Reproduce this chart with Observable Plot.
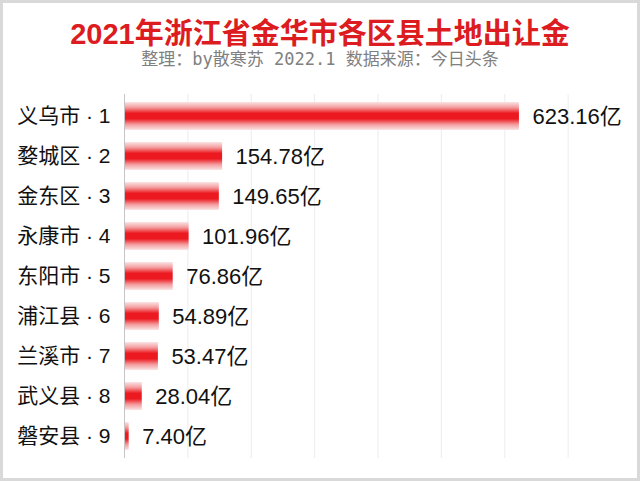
<!DOCTYPE html>
<html>
<head>
<meta charset="utf-8">
<script src="https://cdn.jsdelivr.net/npm/d3@7"></script>
<script src="https://cdn.jsdelivr.net/npm/@observablehq/plot@0.6"></script>
<style>
  html, body { margin: 0; padding: 0; background: #fff; }
  #wrap { position: relative; width: 640px; height: 481px; overflow: hidden; background: #fff; }
  #title { position: absolute; left: 0; top: 14px; width: 640px; height: 40px; line-height: 40px; text-align: center;
           font-family: "Liberation Sans", "Noto Sans CJK SC", sans-serif; font-weight: bold; font-size: 29px; color: #dc1c1e; }
  #subtitle { position: absolute; left: 0; top: 47px; width: 640px; height: 24px; line-height: 24px; text-align: center;
           font-family: "DejaVu Sans Mono", "Noto Sans CJK SC", sans-serif; font-size: 17px; color: #808080; }
  #chart { position: absolute; left: 0; top: 72px; }
  #frame { position: absolute; left: 0; top: 0; width: 640px; height: 481px; box-sizing: border-box;
           border: 3px solid #d9d9d9; pointer-events: none; }
</style>
</head>
<body>
<div id="wrap">
  <div id="title">2021年浙江省金华市各区县土地出让金</div>
  <div id="subtitle">整理：by散寒苏 2022.1 数据来源：今日头条</div>
  <div id="chart"></div>
  <div id="frame"></div>
</div>
<script>
const districts = ["义乌市", "婺城区", "金东区", "永康市", "东阳市", "浦江县", "兰溪市", "武义县", "磐安县"];
const ranks = [1, 2, 3, 4, 5, 6, 7, 8, 9];
const values = [623.16, 154.78, 149.65, 101.96, 76.86, 54.89, 53.47, 28.04, 7.40];
const gridTicks = [0, 100, 200, 300, 400, 500, 600, 700];
const unit = "亿";

const data = districts.map((d, i) => ({
  label: `${d} · ${ranks[i]}`,
  value: values[i]
}));

const font = `"Liberation Sans", "Noto Sans CJK SC", sans-serif`;

const plot = Plot.plot({
  width: 640,
  height: 409,
  marginLeft: 124,
  marginRight: 9,
  marginTop: 22,
  marginBottom: 23,
  style: { fontFamily: font, background: "transparent" },
  x: { domain: [0, 800], axis: null },
  y: { domain: data.map(d => d.label), padding: 0, label: null, tickSize: 0, tickPadding: 14 },
  marks: [
    Plot.gridX(gridTicks, { stroke: "#ececec", strokeOpacity: 1 }),
    Plot.barX(data, { x: "value", y: "label", fill: "url(#barGrad)", insetTop: 6, insetBottom: 6 }),
    Plot.ruleX([0], { stroke: "#c4c4c4" }),
    Plot.text(data, { x: "value", y: "label", text: d => d.value.toFixed(2) + unit, dx: 13, textAnchor: "start",
                      fontSize: 22, fill: "#111" }),
    Plot.axisY({ tickSize: 0, tickPadding: 14, fontSize: 21, fill: "#111", label: null })
  ]
});

d3.select(plot).insert("defs", ":first-child").html(`
  <linearGradient id="barGrad" x1="0" y1="0" x2="0" y2="1">
    <stop offset="0" stop-color="#fbe4e4"/>
    <stop offset="0.2" stop-color="#f49a9c"/>
    <stop offset="0.4" stop-color="#ec1a20"/>
    <stop offset="0.6" stop-color="#ec1a20"/>
    <stop offset="0.8" stop-color="#f49a9c"/>
    <stop offset="1" stop-color="#fbe4e4"/>
  </linearGradient>`);

document.getElementById("chart").appendChild(plot);
</script>
</body>
</html>
